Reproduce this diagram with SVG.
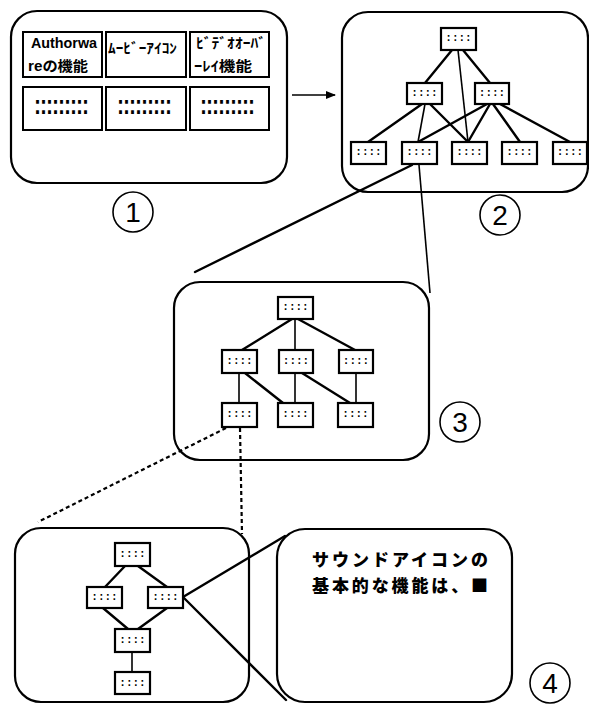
<svg xmlns="http://www.w3.org/2000/svg" width="589" height="704" viewBox="0 0 589 704">
<defs>
<style>
.panel{fill:#fff;stroke:#000;stroke-width:2.2}
.cell{fill:#fff;stroke:#000;stroke-width:2}
.nd{fill:#fff;stroke:#000;stroke-width:2.2}
.dots{font-family:"Liberation Mono",monospace;font-size:11px;font-weight:bold;fill:#000;text-anchor:middle}
.cdots{font-family:"Liberation Mono",monospace;font-size:25px;fill:#000;letter-spacing:-9px}
.edge{stroke:#000;stroke-width:2.4;fill:none;stroke-linecap:round}
.thin{stroke:#000;stroke-width:1.6;fill:none}
.dash{stroke:#000;stroke-width:2.2;fill:none;stroke-dasharray:4 3}
.lbl{font-family:"Liberation Sans","Noto Sans CJK JP",sans-serif;font-weight:bold;font-size:14px;fill:#000}
.jp{font-family:"Noto Sans CJK JP",sans-serif;font-weight:bold;font-size:14px;fill:#000}
.big{font-family:"Noto Sans CJK JP",sans-serif;font-weight:900;font-size:17px;fill:#000}
.circ{fill:none;stroke:#000;stroke-width:1.6}
.num{font-family:"Liberation Sans",sans-serif;font-size:28px;fill:#000;text-anchor:middle}
</style>
<marker id="arr" viewBox="0 0 10 10" refX="9" refY="5" markerWidth="10" markerHeight="10" markerUnits="userSpaceOnUse" orient="auto">
<path d="M0,1 L10,5 L0,9 Z" fill="#000"/>
</marker>
</defs>

<!-- Panel 1 -->
<g id="panel1">
<rect class="panel" x="11" y="11" width="276" height="172" rx="26"/>
<g id="cell-authorware"><rect class="cell" x="23" y="32" width="79" height="45"/>
<text class="lbl" x="31" y="48" textLength="66" lengthAdjust="spacingAndGlyphs">Authorwa</text><text class="lbl" x="28" y="71" textLength="60" lengthAdjust="spacingAndGlyphs">reの機能</text></g>
<g id="cell-movie"><rect class="cell" x="106" y="32" width="80" height="45"/>
<text class="jp" x="108" y="53" textLength="69" lengthAdjust="spacingAndGlyphs">ﾑｰﾋﾞｰｱｲｺﾝ</text></g>
<g id="cell-video"><rect class="cell" x="190" y="32" width="79" height="45"/>
<text class="jp" x="196" y="48" textLength="70" lengthAdjust="spacingAndGlyphs">ﾋﾞﾃﾞｵｵｰﾊﾞ</text><text class="jp" x="194" y="71" textLength="58" lengthAdjust="spacingAndGlyphs">ｰﾚｲ機能</text></g>
<g id="cell-d1"><rect class="cell" x="23" y="87" width="79" height="43"/>
<text class="cdots" x="30" y="114">:::::::::</text></g>
<g id="cell-d2"><rect class="cell" x="106" y="87" width="80" height="43"/>
<text class="cdots" x="113" y="114">:::::::::</text></g>
<g id="cell-d3"><rect class="cell" x="190" y="87" width="79" height="43"/>
<text class="cdots" x="196" y="114">:::::::::</text></g>
</g>
<g id="label1"><circle class="circ" cx="133" cy="212" r="20"/><text class="num" x="133" y="222">1</text></g>

<!-- Panel 2 -->
<g id="panel2"><rect class="panel" x="342" y="12" width="246" height="180" rx="26"/></g>
<g id="label2"><circle class="circ" cx="500" cy="215" r="20"/><text class="num" x="500" y="225">2</text></g>

<!-- Panel 3 -->
<g id="panel3"><rect class="panel" x="174" y="282" width="255" height="178" rx="26"/></g>
<g id="label3"><circle class="circ" cx="460" cy="422" r="20"/><text class="num" x="460" y="432">3</text></g>

<!-- Panel 4 -->
<g id="panel4"><rect class="panel" x="15" y="528" width="234" height="174" rx="26"/></g>
<g id="bubble"><rect class="panel" x="277" y="529" width="235" height="173" rx="28"/>
<text class="big" x="312" y="566" textLength="176" lengthAdjust="spacing">サウンドアイコンの</text>
<text class="big" x="312" y="592" textLength="176" lengthAdjust="spacing">基本的な機能は、■</text></g>
<g id="label4"><circle class="circ" cx="550" cy="683" r="20"/><text class="num" x="550" y="693">4</text></g>

<!-- Connectors -->
<g id="connectors">
<line class="thin" x1="292" y1="95" x2="335" y2="95" marker-end="url(#arr)"/>
<!-- panel 2 edges -->
<line class="edge" x1="452" y1="50" x2="425" y2="83"/>
<line class="edge" x1="463" y1="50" x2="490" y2="83"/>
<line class="thin" x1="458" y1="50" x2="468" y2="142"/>
<line class="edge" x1="422" y1="104" x2="368" y2="142"/>
<line class="thin" x1="425" y1="104" x2="418" y2="142"/>
<line class="edge" x1="430" y1="104" x2="468" y2="142"/>
<line class="edge" x1="487" y1="104" x2="418" y2="142"/>
<line class="edge" x1="490" y1="104" x2="468" y2="142"/>
<line class="edge" x1="493" y1="104" x2="520" y2="142"/>
<line class="edge" x1="500" y1="104" x2="570" y2="142"/>
<!-- zoom lines 2 -> 3 -->
<line class="edge" x1="412" y1="165" x2="195" y2="272"/>
<line class="thin" x1="419" y1="165" x2="430" y2="293"/>
<!-- panel 3 edges -->
<line class="edge" x1="292" y1="319" x2="242" y2="350"/>
<line class="thin" x1="295" y1="319" x2="295" y2="350"/>
<line class="edge" x1="298" y1="319" x2="355" y2="350"/>
<line class="thin" x1="239" y1="373" x2="239" y2="403"/>
<line class="edge" x1="245" y1="373" x2="283" y2="403"/>
<line class="thin" x1="295" y1="373" x2="295" y2="403"/>
<line class="edge" x1="302" y1="373" x2="350" y2="403"/>
<line class="thin" x1="356" y1="373" x2="356" y2="403"/>
<!-- dashed lines 3 -> 4 -->
<line class="dash" x1="226" y1="428" x2="38" y2="522"/>
<line class="dash" x1="240" y1="428" x2="242" y2="534"/>
<!-- panel 4 edges -->
<line class="edge" x1="125" y1="566" x2="105" y2="587"/>
<line class="edge" x1="138" y1="566" x2="167" y2="587"/>
<line class="edge" x1="103" y1="608" x2="128" y2="629"/>
<line class="edge" x1="167" y1="608" x2="138" y2="629"/>
<line class="thin" x1="132" y1="652" x2="132" y2="672"/>
<!-- zoom lines 4 -> bubble -->
<line class="edge" x1="183" y1="597" x2="285" y2="536"/>
<line class="edge" x1="183" y1="597" x2="286" y2="700"/>
</g>

<!-- Panel 2 nodes -->
<g id="p2-n1"><rect class="nd" x="441" y="28" width="35" height="22"/><text class="dots" x="458.5" y="41">::::</text></g>
<g id="p2-n2"><rect class="nd" x="407" y="83" width="35" height="21"/><text class="dots" x="424.5" y="96">::::</text></g>
<g id="p2-n3"><rect class="nd" x="475" y="83" width="34" height="21"/><text class="dots" x="492" y="96">::::</text></g>
<g id="p2-n4"><rect class="nd" x="351" y="142" width="35" height="22"/><text class="dots" x="368.5" y="155">::::</text></g>
<g id="p2-n5"><rect class="nd" x="402" y="142" width="35" height="22"/><text class="dots" x="419.5" y="155">::::</text></g>
<g id="p2-n6"><rect class="nd" x="452" y="142" width="35" height="22"/><text class="dots" x="469.5" y="155">::::</text></g>
<g id="p2-n7"><rect class="nd" x="502" y="142" width="35" height="22"/><text class="dots" x="519.5" y="155">::::</text></g>
<g id="p2-n8"><rect class="nd" x="553" y="142" width="34" height="22"/><text class="dots" x="570" y="155">::::</text></g>

<!-- Panel 3 nodes -->
<g id="p3-n1"><rect class="nd" x="278" y="297" width="35" height="22"/><text class="dots" x="295.5" y="310">::::</text></g>
<g id="p3-n2"><rect class="nd" x="222" y="350" width="35" height="23"/><text class="dots" x="239.5" y="364">::::</text></g>
<g id="p3-n3"><rect class="nd" x="279" y="350" width="34" height="23"/><text class="dots" x="296" y="364">::::</text></g>
<g id="p3-n4"><rect class="nd" x="339" y="350" width="34" height="23"/><text class="dots" x="356" y="364">::::</text></g>
<g id="p3-n5"><rect class="nd" x="222" y="403" width="35" height="24"/><text class="dots" x="239.5" y="417">::::</text></g>
<g id="p3-n6"><rect class="nd" x="278" y="403" width="35" height="24"/><text class="dots" x="295.5" y="417">::::</text></g>
<g id="p3-n7"><rect class="nd" x="338" y="403" width="35" height="24"/><text class="dots" x="355.5" y="417">::::</text></g>

<!-- Panel 4 nodes -->
<g id="p4-n1"><rect class="nd" x="115" y="543" width="35" height="23"/><text class="dots" x="132.5" y="557">::::</text></g>
<g id="p4-n2"><rect class="nd" x="87" y="587" width="35" height="21"/><text class="dots" x="104.5" y="600">::::</text></g>
<g id="p4-n3"><rect class="nd" x="148" y="587" width="35" height="21"/><text class="dots" x="165.5" y="600">::::</text></g>
<g id="p4-n4"><rect class="nd" x="115" y="629" width="35" height="23"/><text class="dots" x="132.5" y="643">::::</text></g>
<g id="p4-n5"><rect class="nd" x="115" y="672" width="35" height="22"/><text class="dots" x="132.5" y="686">::::</text></g>
</svg>
